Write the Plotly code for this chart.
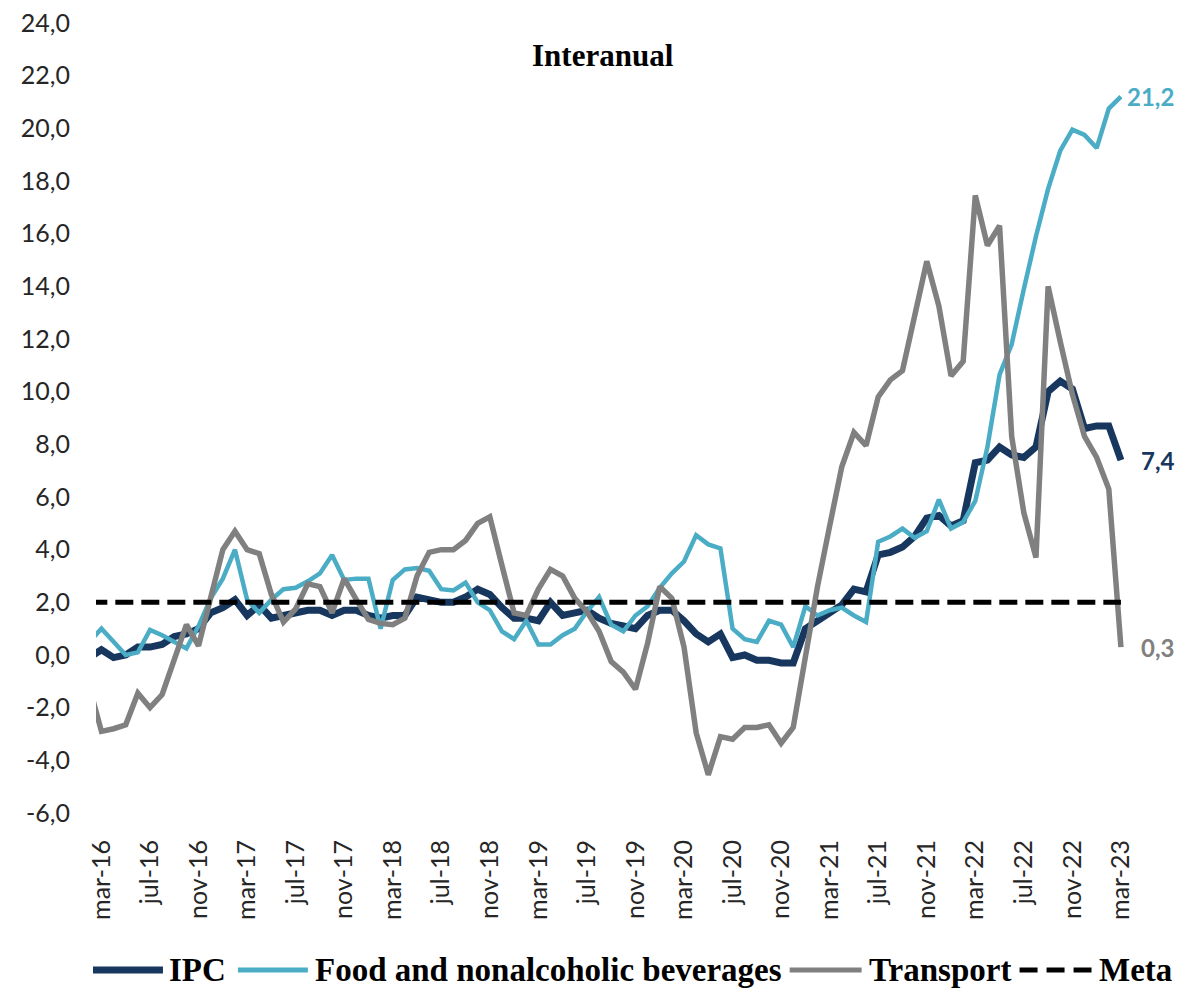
import plotly.graph_objects as go

# Monthly year-on-year rates (%), feb-16 .. mar-23
MONTH_ABBR = ["ene", "feb", "mar", "abr", "may", "jun",
              "jul", "ago", "sep", "oct", "nov", "dic"]
MONTHS = []
for year in range(2016, 2024):
    for m in range(12):
        if (year == 2016 and m < 1) or (year == 2023 and m > 2):
            continue
        MONTHS.append(f"{MONTH_ABBR[m]}-{str(year)[2:]}")

IPC = [-0.1, 0.2, -0.1, 0.0, 0.3, 0.3, 0.4, 0.7, 0.8, 1.0, 1.6, 1.8, 2.1,
       1.5, 1.9, 1.4, 1.5, 1.6, 1.7, 1.7, 1.5, 1.7, 1.7, 1.5, 1.4, 1.5,
       1.5, 2.2, 2.1, 2.0, 2.0, 2.2, 2.5, 2.3, 1.8, 1.4, 1.4, 1.3, 2.0,
       1.5, 1.6, 1.7, 1.4, 1.2, 1.1, 1.0, 1.5, 1.7, 1.7, 1.3, 0.8, 0.5,
       0.8, -0.1, 0.0, -0.2, -0.2, -0.3, -0.3, 1.0, 1.3, 1.6, 1.9, 2.5,
       2.4, 3.8, 3.9, 4.1, 4.5, 5.2, 5.3, 4.9, 5.1, 7.3, 7.4, 7.9, 7.6,
       7.5, 7.9, 10.0, 10.4, 10.1, 8.6, 8.7, 8.7, 7.4]

FOOD = [0.5, 1.0, 0.5, 0.0, 0.1, 0.95, 0.75, 0.5, 0.25, 1.1, 2.15, 2.9,
        4.0, 2.1, 1.6, 2.1, 2.5, 2.55, 2.8, 3.1, 3.8, 2.85, 2.9, 2.9, 1.0,
        2.85, 3.25, 3.3, 3.2, 2.5, 2.45, 2.75, 2.0, 1.7, 0.9, 0.6, 1.3,
        0.4, 0.4, 0.75, 1.0, 1.65, 2.2, 1.15, 0.9, 1.5, 1.85, 2.55, 3.1,
        3.55, 4.55, 4.2, 4.05, 1.0, 0.6, 0.5, 1.3, 1.15, 0.3, 1.85, 1.5,
        1.7, 1.8, 1.5, 1.25, 4.3, 4.5, 4.8, 4.45, 4.7, 5.9, 4.8, 5.05,
        5.85, 7.9, 10.65, 11.8, 13.9, 15.9, 17.7, 19.15, 19.95, 19.75,
        19.25, 20.75, 21.2]

TRANSPORT = [-1.2, -2.9, -2.8, -2.65, -1.45, -2.0, -1.5, -0.2, 1.15, 0.35,
             2.2, 4.0, 4.7, 4.0, 3.85, 2.3, 1.25, 1.75, 2.7, 2.6, 1.6, 2.9,
             2.1, 1.35, 1.2, 1.15, 1.4, 3.0, 3.9, 4.0, 4.0, 4.35, 5.0,
             5.25, 3.4, 1.6, 1.5, 2.5, 3.25, 3.0, 2.15, 1.65, 0.9, -0.25,
             -0.65, -1.3, 0.45, 2.6, 2.15, 0.3, -2.95, -4.55, -3.1, -3.2,
             -2.75, -2.75, -2.65, -3.35, -2.75, 0.0, 2.6, 4.9, 7.15, 8.45,
             7.95, 9.8, 10.45, 10.8, 12.9, 14.95, 13.25, 10.6, 11.15, 17.45,
             15.55, 16.3, 8.3, 5.4, 3.7, 14.0, 11.9, 9.9, 8.3, 7.5, 6.3, 0.3]

META = 2.0

TICK_MONTHS = MONTHS[1::4]
Y_TICKS = list(range(-6, 25, 2))
Y_TICK_TEXT = [f"{v:.1f}".replace(".", ",") for v in Y_TICKS]

SERIES = [
    ("IPC", IPC, "#17375E", 7),
    ("Food and nonalcoholic beverages", FOOD, "#4BACC6", 4.5),
    ("Transport", TRANSPORT, "#808080", 5.5),
]

W, H = 1181, 990
ML, MR, MT, MB = 96, 53.5, 23, 177


def px_x(px):
    return (px - ML) / (W - ML - MR)


def px_y(py):
    return (H - MB - py) / (H - MT - MB)


fig = go.Figure()
for name, vals, color, width in SERIES:
    fig.add_trace(go.Scatter(x=MONTHS, y=vals, name=name, mode="lines",
                             line=dict(color=color, width=width),
                             showlegend=False))
fig.add_trace(go.Scatter(x=MONTHS, y=[META] * len(MONTHS), name="Meta",
                         mode="lines", showlegend=False,
                         line=dict(color="#000000", width=5, dash="18px,8px")))

# end-of-series value labels
label_font = dict(family="Lato", size=24, weight="bold")
for vals, color, shift in [(FOOD, "#4BACC6", 4), (IPC, "#17375E", 18),
                           (TRANSPORT, "#808080", 18)]:
    fig.add_annotation(x=MONTHS[-1], y=vals[-1], xref="x", yref="y",
                       text=f"{vals[-1]:.1f}".replace(".", ","),
                       showarrow=False, xanchor="left", yanchor="middle",
                       xshift=shift,
                       font=dict(color=color, **label_font))

# title
fig.add_annotation(x=px_x(603), y=px_y(55), xref="paper", yref="paper",
                   text="<b>Interanual</b>", showarrow=False,
                   xanchor="center", yanchor="middle",
                   font=dict(family="Liberation Serif", size=31, color="#000000"))

# legend drawn below the axis
legend_items = [
    ("IPC", "#17375E", 7, "solid", 93, 163, 167),
    ("Food and nonalcoholic beverages", "#4BACC6", 5, "solid", 238, 308, 313),
    ("Transport", "#808080", 5, "solid", 790, 862, 867),
    ("Meta", "#000000", 5, "dash", 1020, 1092, 1097),
]
leg_y = 970
for text, color, width, dash, x0, x1, tx in legend_items:
    fig.add_shape(type="line", xref="paper", yref="paper",
                  x0=px_x(x0), x1=px_x(x1), y0=px_y(leg_y), y1=px_y(leg_y),
                  line=dict(color=color, width=width,
                            dash="18px,9px" if dash == "dash" else "solid"))
    fig.add_annotation(x=px_x(tx), y=px_y(leg_y), xref="paper", yref="paper",
                       text=f"<b>{text}</b>", showarrow=False,
                       xanchor="left", yanchor="middle",
                       font=dict(family="Liberation Serif", size=33,
                                 color="#000000"))

fig.update_layout(
    width=W, height=H,
    margin=dict(l=ML, r=MR, t=MT, b=MB, autoexpand=False),
    paper_bgcolor="#ffffff", plot_bgcolor="#ffffff",
    showlegend=False,
    font=dict(family="Lato", size=25, color="#262626"),
)
fig.update_xaxes(type="category", range=[0.55, len(MONTHS) - 0.5],
                 tickmode="array", tickvals=TICK_MONTHS, ticktext=TICK_MONTHS,
                 tickangle=-90, showgrid=False, zeroline=False,
                 showline=False, ticks="outside", ticklen=16,
                 tickcolor="rgba(0,0,0,0)")
fig.update_yaxes(range=[-6, 24], tickmode="array", tickvals=Y_TICKS,
                 ticktext=Y_TICK_TEXT, showgrid=False, zeroline=False,
                 showline=False, ticks="outside", ticklen=20,
                 tickcolor="rgba(0,0,0,0)")

fig.write_html("out.html")
